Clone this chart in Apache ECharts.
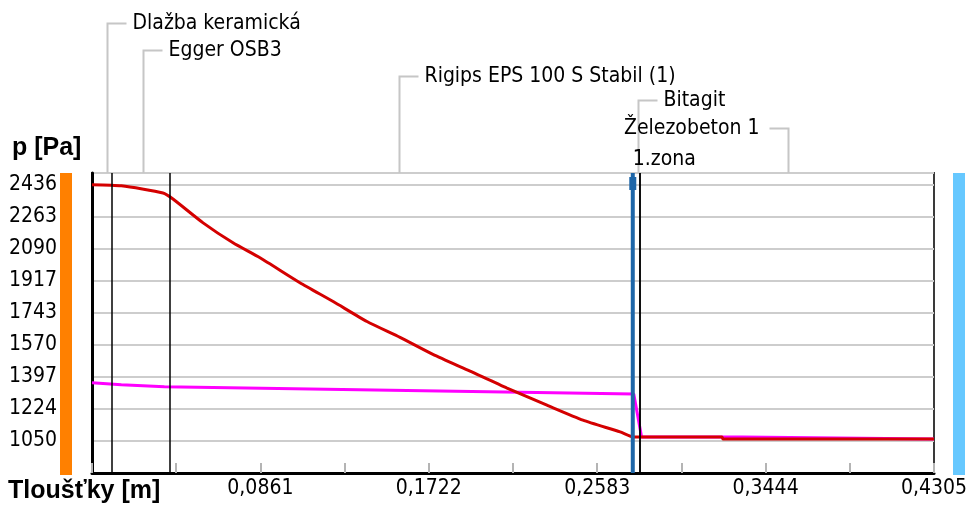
<!DOCTYPE html>
<html>
<head>
<meta charset="utf-8">
<script src="https://cdn.jsdelivr.net/npm/echarts@6/dist/echarts.min.js"></script>
<style>
  html, body { margin: 0; padding: 0; background: #ffffff; }
  #chart { width: 968px; height: 506px; }
</style>
</head>
<body>
<div id="chart"></div>
<script>
// Layers of the construction (from interior to exterior) and their boundaries [m]
const layerNames = ['Dlažba keramická', 'Egger OSB3', 'Rigips EPS 100 S Stabil (1)', 'Bitagit', 'Železobeton 1'];
const layerBounds = [0, 0.015, 0.037, 0.277, 0.281, 0.4305];

// Condensation zone boundary
const zoneName = '1.zona';
const zoneX = 0.277;

// Axis tick labels
const xLabelTicks = [0.0861, 0.1722, 0.2583, 0.3444, 0.4305];
const yTickLabels = [1050, 1224, 1397, 1570, 1743, 1917, 2090, 2263, 2436];

// Saturated water vapour pressure [Pa] along the thickness [m]
const pSat = [
  [0, 2438], [0.015, 2432], [0.0363, 2393], [0.0414, 2360], [0.0568, 2231],
  [0.0721, 2123], [0.0859, 2042], [0.1063, 1907], [0.1233, 1805], [0.1406, 1697],
  [0.1575, 1611], [0.1743, 1519], [0.1933, 1428], [0.2122, 1336], [0.2326, 1244],
  [0.2510, 1163], [0.2700, 1099], [0.2770, 1071], [0.2810, 1071], [0.3221, 1071],
  [0.3226, 1061], [0.4305, 1061]
];

// Partial water vapour pressure [Pa] along the thickness [m]
const pPart = [
  [0, 1366], [0.015, 1355], [0.037, 1344], [0.277, 1304], [0.281, 1071],
  [0.3323, 1071], [0.3328, 1061], [0.4305, 1061]
];

// ---- scale setup ----
const xMax = layerBounds[layerBounds.length - 1];
const yStep = (yTickLabels[yTickLabels.length - 1] - yTickLabels[0]) / (yTickLabels.length - 1);
const yMin = yTickLabels[0] - yStep;
const yMax = 2501;

const narrow = "'Liberation Sans Narrow', 'DejaVu Sans Condensed', 'Liberation Sans', sans-serif";
const wide = "'Liberation Sans', Arial, sans-serif";
const textSize = 21;

// leader lines of the layer names: rise above the plot [px], direction, text gap [px]
const leaderRise = [150, 123, 97, 73, 45];
const leaderSide = [1, 1, 1, 1, -1];
const leaderGap = [6, 6, 6, 6, 10];

const layerMids = layerNames.map((n, i) => [(layerBounds[i] + layerBounds[i + 1]) / 2, yMax]);

function renderLeader(params, api) {
  const i = params.dataIndex;
  const p = api.coord([api.value(0), api.value(1)]);
  const x = Math.round(p[0]) + 0.5;
  const yTop = p[1];
  const yl = Math.round(yTop - leaderRise[i]) + 0.5;
  const xe = x + leaderSide[i] * 19;
  return {
    type: 'group',
    children: [
      {
        type: 'polyline',
        shape: { points: [[x, yTop], [x, yl], [xe, yl]] },
        style: { stroke: '#c6c6c6', lineWidth: 2, fill: null }
      },
      {
        type: 'text',
        x: xe + leaderSide[i] * leaderGap[i],
        y: yl,
        style: {
          text: layerNames[i],
          align: leaderSide[i] > 0 ? 'left' : 'right',
          verticalAlign: 'middle',
          fontFamily: narrow,
          fontSize: textSize,
          fill: '#000'
        }
      }
    ]
  };
}

// interior / exterior side bars
function renderSides(params, api) {
  const top = api.coord([api.value(0), yMax]);
  const bottom = api.coord([api.value(0), yMin]);
  const left = params.dataIndex === 0;
  const x = left ? top[0] - 32 : top[0] + 19;
  return {
    type: 'rect',
    shape: { x: x, y: top[1], width: 12, height: bottom[1] - top[1] + 2 },
    style: { fill: left ? '#ff8000' : '#66c8ff' }
  };
}

// condensation zone marker
function renderZone(params, api) {
  const top = api.coord([api.value(0), yMax]);
  const bottom = api.coord([api.value(0), yMin]);
  const x = top[0] - 1;
  return {
    type: 'group',
    children: [
      {
        type: 'line',
        shape: { x1: x, y1: top[1], x2: x, y2: bottom[1] },
        style: { stroke: '#1e66a8', lineWidth: 4 }
      },
      {
        type: 'rect',
        shape: { x: x - 3.5, y: top[1] + 4, width: 7, height: 13 },
        style: { fill: '#1e66a8' }
      },
      {
        type: 'text',
        x: x,
        y: top[1] - 13,
        style: {
          text: zoneName,
          align: 'left',
          verticalAlign: 'middle',
          fontFamily: narrow,
          fontSize: textSize,
          fill: '#000'
        }
      }
    ]
  };
}

const chart = echarts.init(document.getElementById('chart'), null, { renderer: 'canvas' });

chart.setOption({
  animation: false,
  backgroundColor: '#ffffff',
  grid: {
    left: 92, right: 34, top: 173, bottom: 33,
    containLabel: false,
    outerBoundsMode: 'none',
    show: true, borderColor: '#3a3a3a', borderWidth: 2, backgroundColor: '#ffffff'
  },
  xAxis: {
    type: 'value',
    min: 0,
    max: xMax,
    interval: xMax / 10,
    axisLine: { show: true, onZero: false, lineStyle: { color: '#000', width: 3 } },
    axisTick: { show: true, inside: true, length: 10, lineStyle: { color: '#b4b4b4', width: 2 } },
    axisLabel: {
      margin: 5,
      color: '#000',
      fontFamily: narrow,
      fontSize: textSize,
      formatter: v => xLabelTicks.some(t => Math.abs(t - v) < 1e-6) ? v.toFixed(4).replace('.', ',') : ''
    },
    splitLine: { show: false }
  },
  yAxis: {
    type: 'value',
    min: yMin,
    max: yMax,
    interval: yStep,
    axisLine: { show: true, lineStyle: { color: '#000', width: 3 } },
    axisTick: { show: false },
    axisLabel: {
      margin: 35,
      color: '#000',
      fontFamily: narrow,
      fontSize: textSize,
      padding: [6, 0, 0, 0],
      formatter: v => {
        const lab = yTickLabels.find(t => Math.abs(t - v) < 1);
        return lab === undefined ? '' : String(lab);
      }
    },
    splitLine: { show: true, lineStyle: { color: '#cdcdcd', width: 2 } }
  },
  graphic: [
    {
      type: 'text', left: 12, top: 136,
      style: { text: 'p [Pa]', fontFamily: wide, fontWeight: 'bold', fontSize: 25, fill: '#000' }
    },
    {
      type: 'text', left: 8, top: 479,
      style: { text: 'Tloušťky [m]', fontFamily: wide, fontWeight: 'bold', fontSize: 25, fill: '#000' }
    }
  ],
  series: [
    {
      name: 'hranice vrstev',
      type: 'line',
      data: [],
      z: 2,
      markLine: {
        silent: true,
        symbol: ['none', 'none'],
        label: { show: false },
        lineStyle: { color: '#000', width: 1.5, type: 'solid' },
        data: layerBounds.slice(1, -1).map(b => ({ xAxis: b }))
      }
    },
    {
      name: 'p',
      type: 'line',
      data: pPart,
      showSymbol: false,
      z: 3,
      lineStyle: { color: '#ff00ff', width: 3 },
      itemStyle: { color: '#ff00ff' }
    },
    {
      name: 'p,sat',
      type: 'line',
      data: pSat,
      showSymbol: false,
      smooth: 0.2,
      z: 4,
      lineStyle: { color: '#d40000', width: 3 },
      itemStyle: { color: '#d40000' }
    },
    {
      name: 'zona',
      type: 'custom',
      clip: false,
      z: 5,
      data: [[zoneX, yMin]],
      renderItem: renderZone
    },
    {
      name: 'vrstvy',
      type: 'custom',
      clip: false,
      z: 1,
      data: layerMids,
      renderItem: renderLeader
    },
    {
      name: 'strany',
      type: 'custom',
      clip: false,
      z: 1,
      data: [[0, yMin], [xMax, yMin]],
      renderItem: renderSides
    }
  ]
});
</script>
</body>
</html>
